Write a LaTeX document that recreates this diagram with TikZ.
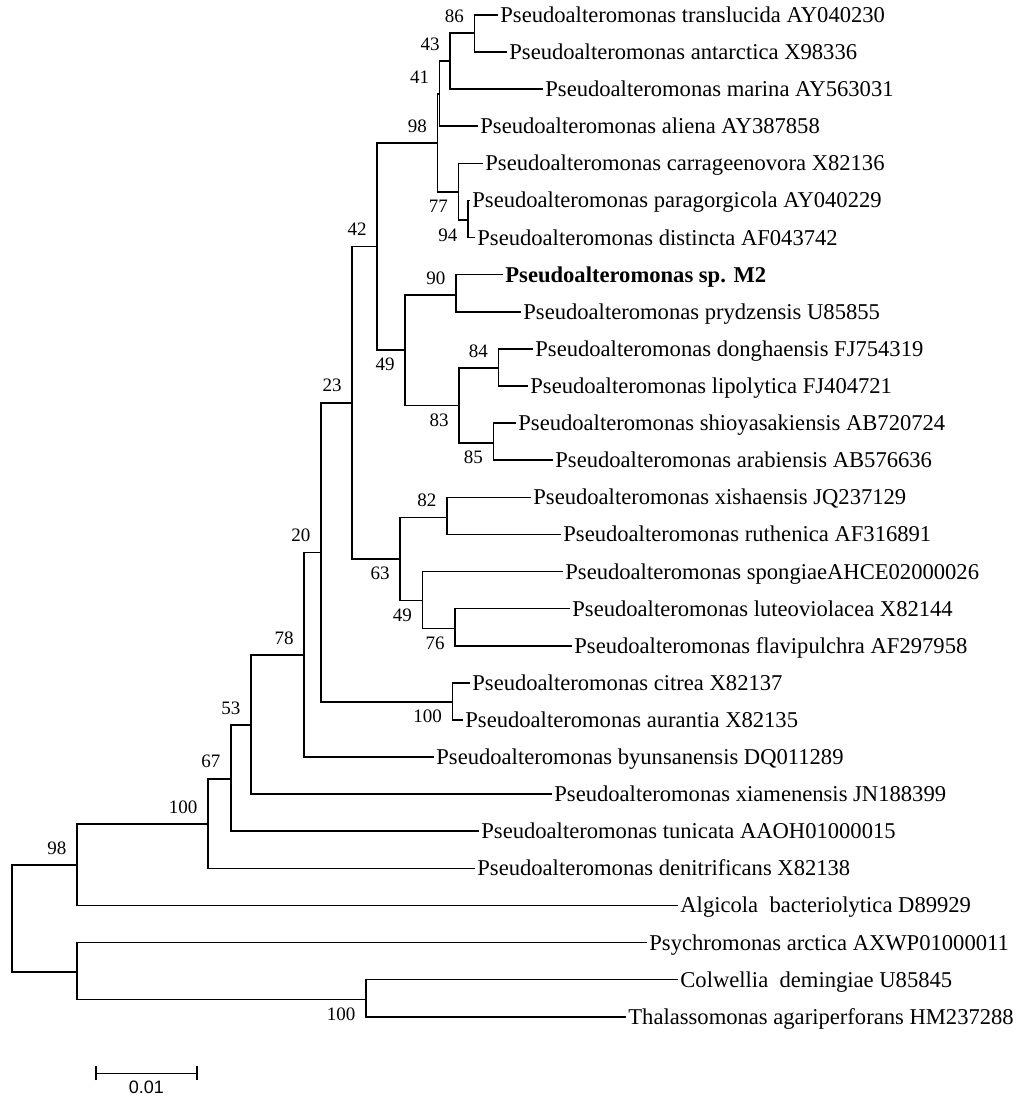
\documentclass[tikz,border=0pt]{standalone}
\usepackage{fontspec}
\setmainfont{Liberation Serif}
\newfontfamily\barfont{Liberation Sans}
\usetikzlibrary{positioning,calc,arrows.meta}

\tikzset{
  leaf/.style={anchor=west, inner xsep=1pt, inner ysep=0pt, text height=7.5pt, text depth=0pt,
    font=\fontsize{11.3}{13}\selectfont},
  bs/.style={anchor=east, inner sep=0pt, font=\fontsize{9.5}{10}\selectfont, xshift=-5pt},
  bsup/.style={bs, yshift=8.5pt},
  bsdown/.style={bs, yshift=-7.3pt},
  branch/.style={line width=0.8pt}
}

\begin{document}
\begin{tikzpicture}[x=0.5pt,y=-0.5pt]
\useasboundingbox (0,0) rectangle (1024,1101);

% leaves
\foreach \i/\nm/\tip/\txt in {
  1/tra/498/Pseudoalteromonas translucida AY040230,
  2/ant/507/Pseudoalteromonas antarctica X98336,
  3/mar/543/Pseudoalteromonas marina AY563031,
  4/ali/478/Pseudoalteromonas aliena AY387858,
  5/car/483/Pseudoalteromonas carrageenovora X82136,
  6/par/470/Pseudoalteromonas paragorgicola AY040229,
  7/dis/475/Pseudoalteromonas distincta AF043742,
  8/mtwo/503/\textbf{Pseudoalteromonas sp. M2},
  9/pry/521/Pseudoalteromonas prydzensis U85855,
  10/don/533/Pseudoalteromonas donghaensis FJ754319,
  11/lip/528/Pseudoalteromonas lipolytica FJ404721,
  12/shi/516/Pseudoalteromonas shioyasakiensis AB720724,
  13/ara/553/Pseudoalteromonas arabiensis AB576636,
  14/xis/531/Pseudoalteromonas xishaensis JQ237129,
  15/rut/561/Pseudoalteromonas ruthenica AF316891,
  16/spo/563/Pseudoalteromonas spongiaeAHCE02000026,
  17/lut/570/Pseudoalteromonas luteoviolacea X82144,
  18/fla/572/Pseudoalteromonas flavipulchra AF297958,
  19/cit/470/Pseudoalteromonas citrea X82137,
  20/aur/463/Pseudoalteromonas aurantia X82135,
  21/byu/434/Pseudoalteromonas byunsanensis DQ011289,
  22/xia/552/Pseudoalteromonas xiamenensis JN188399,
  23/tun/479/Pseudoalteromonas tunicata AAOH01000015,
  24/den/475/Pseudoalteromonas denitrificans X82138,
  25/alg/678/Algicola~ bacteriolytica D89929,
  26/psy/647/Psychromonas arctica AXWP01000011,
  27/col/678/Colwellia~ demingiae U85845,
  28/tha/626/Thalassomonas agariperforans HM237288}
  \node[leaf] (\nm) at (\tip, {15+37.1*(\i-1)}) {\txt};

% inner nodes
\coordinate (n86) at (474.3,33.3);
\coordinate (n43) at (450,61.2);
\coordinate (n41) at (439.5,94);
\coordinate (n94) at (467.7,220.3);
\coordinate (n77) at (458.3,191.8);
\coordinate (n98a) at (437.3,142.9);
\coordinate (n90) at (455.7,295);
\coordinate (n84) at (498.3,368);
\coordinate (n85) at (493.3,442.8);
\coordinate (n83) at (459,405.4);
\coordinate (n49a) at (405,350.2);
\coordinate (n42) at (377,246.6);
\coordinate (n82) at (446.7,517.3);
\coordinate (n76) at (455,628.3);
\coordinate (n49b) at (422.3,600.5);
\coordinate (n63) at (400,558.9);
\coordinate (n23) at (352,402.8);
\coordinate (n100a) at (452.3,702);
\coordinate (n20) at (320.7,552.4);
\coordinate (n78) at (304,655);
\coordinate (n53) at (250.7,725);
\coordinate (n67) at (230.7,778.7);
\coordinate (n100b) at (207.7,824);
\coordinate (n98b) at (76.7,865);
\coordinate (n100c) at (365.7,999.4);
\coordinate (n2) at (76.7,971.7);
\coordinate (root) at (11.7,918);

% branches
\foreach \p/\c in {n86/tra, n86/ant, n43/mar, n41/ali, n77/car, n94/par, n94/dis,
  n90/mtwo, n90/pry, n84/don, n84/lip, n85/shi, n85/ara, n82/xis, n82/rut,
  n49b/spo, n76/lut, n76/fla, n100a/cit, n100a/aur, n78/byu, n53/xia, n67/tun,
  n100b/den, n98b/alg, n2/psy, n100c/col, n100c/tha}
  \draw[branch] (\p) |- (\c.west);
\foreach \p/\c in {n43/n86, n41/n43, n77/n94, n98a/n41, n98a/n77, n83/n84, n83/n85,
  n49a/n90, n49a/n83, n42/n98a, n42/n49a, n49b/n76, n63/n82, n63/n49b, n23/n42,
  n23/n63, n20/n23, n20/n100a, n78/n20, n53/n78, n67/n53, n100b/n67, n98b/n100b,
  n2/n100c, root/n98b, root/n2}
  \draw[branch] (\p) |- (\c);

% bootstrap values
\foreach \p/\v in {n86/86, n43/43, n41/41, n98a/98, n42/42, n90/90, n84/84, n23/23,
  n82/82, n20/20, n78/78, n53/53, n67/67, n100b/100, n98b/98}
  \node[bsup] (b\p) at (\p) {\v};
\foreach \p/\v in {n77/77, n94/94, n49a/49, n83/83, n85/85, n63/63, n49b/49, n76/76,
  n100a/100, n100c/100}
  \node[bsdown] (b\p) at (\p) {\v};

% scale bar
\coordinate (sbl) at (95,1073.3);
\coordinate (sbr) at (197.7,1073.3);
\draw[line width=0.8pt, {Bar[width=7pt]}-{Bar[width=7pt]}] (sbl) -- (sbr);
\node[font=\barfont\fontsize{9}{10}\selectfont, inner sep=0pt] (sblab) at (146.3,1087) {0.01};
\end{tikzpicture}
\end{document}
